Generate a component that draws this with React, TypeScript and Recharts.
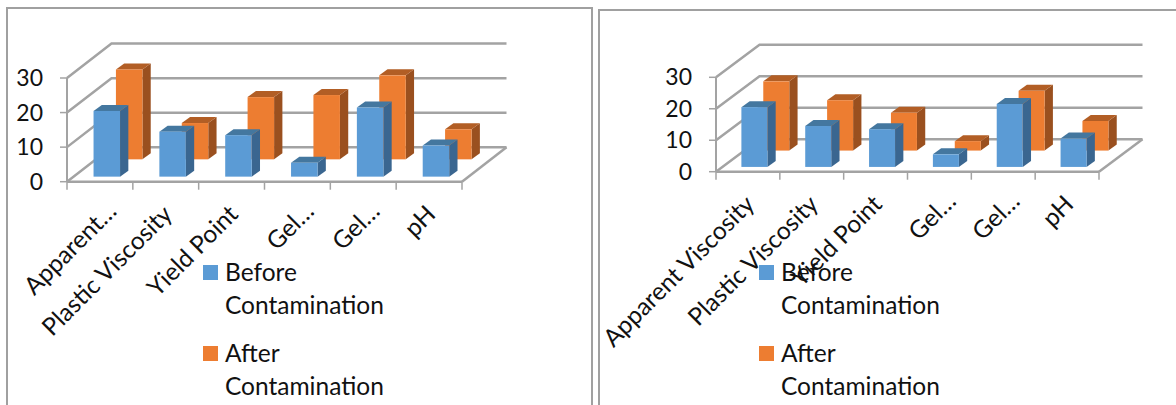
import { Bar, BarChart, CartesianGrid, Legend, XAxis, YAxis } from 'recharts'

const seriesNames = ['Before Contamination', 'After Contamination']
const seriesColors = ['#5B9BD5', '#ED7D31']
const seriesSides = ['#3A6690', '#9A501F']
const seriesTops = ['#44779F', '#B25E25']

const leftLabels = ['Apparent…', 'Plastic Viscosity', 'Yield Point', 'Gel…', 'Gel…', 'pH']
const leftBefore = [19, 13, 12, 4, 20, 9]
const leftAfter = [26, 10.5, 18, 18.6, 24.3, 8.7]

const rightLabels = ['Apparent Viscosity', 'Plastic Viscosity', 'Yield Point', 'Gel…', 'Gel…', 'pH']
const rightBefore = [19, 13, 12, 4, 20, 9]
const rightAfter = [22, 16, 12, 3, 19, 9.4]

const yTicks = [0, 10, 20, 30]
const GRID = '#A3A3A3'
const FONT = 'Lato, sans-serif'

function Box3D(props: any) {
  const { x, y, width, height, fill, side, top, shiftX, shiftY, sideX, sideY } = props
  const l = x + shiftX
  const r = l + width
  const t = y - shiftY
  const b = t + height
  return (
    <g>
      <path d={`M${r},${t}L${r + sideX},${t - sideY}L${r + sideX},${b - sideY}L${r},${b}Z`} fill={side} />
      <path d={`M${l},${t}L${l + sideX},${t - sideY}L${r + sideX},${t - sideY}L${r},${t}Z`} fill={top} />
      <rect x={l} y={t} width={width} height={height} fill={fill} />
    </g>
  )
}

// walls of the 3d box, one piece per gridline, kept in the grid so it stays behind the bars
function WallLine(props: any) {
  const { x1, x2, y1, depthX, depthY, plotBottom, count } = props
  const floor = Math.abs(y1 - plotBottom) < 1
  const line = { stroke: GRID, strokeWidth: 2.5, fill: 'none' }
  return (
    <g key={y1}>
      <path d={`M${x1},${y1}L${x1 + depthX},${y1 - depthY}L${x2 + depthX},${y1 - depthY}`} {...line} />
      {floor && <path d={`M${x2},${y1}L${x2 + depthX},${y1 - depthY}`} {...line} />}
      {floor &&
        Array.from({ length: count + 1 }).map((_, i) => {
          const tx = x1 + ((x2 - x1) * i) / count
          return <path key={i} d={`M${tx},${y1}L${tx},${y1 + 8}`} stroke={GRID} strokeWidth={1.5} />
        })}
    </g>
  )
}

function AngledTick(props: any) {
  const { x, y, index, labels } = props
  const label: string = labels[index]
  // the cut labels sit a bit further along than the full ones
  const cut = label.endsWith('…')
  return (
    <text
      transform={`translate(${x + 8 + (cut ? 10 : 0)},${y + 26 - (cut ? 3 : 0)}) rotate(-45)`}
      textAnchor="end"
      fontSize={24.5}
      fontFamily={FONT}
      fill="#111"
    >
      {label}
    </text>
  )
}

function LegendBox({ payload }: any) {
  const items = [...(payload ?? [])].sort(
    (a: any, b: any) => seriesNames.indexOf(a.value) - seriesNames.indexOf(b.value),
  )
  return (
    <div style={{ fontFamily: FONT, fontSize: 24.5, lineHeight: '33px', color: '#111' }}>
      {items.map((it: any) => (
        <div key={it.value} style={{ display: 'flex', height: 81 }}>
          <div style={{ width: 15, height: 15, marginTop: 10.5, marginRight: 7, background: it.color, flex: 'none' }} />
          <div style={{ width: 170 }}>{it.value}</div>
        </div>
      ))}
    </div>
  )
}

function Panel3D(props: {
  labels: string[]
  before: number[]
  after: number[]
  chartWidth: number
  axisWidth: number
  plotRight: number
  plotTop: number
  plotBottom: number
  depthX: number
  depthY: number
  barSize: number
  legendLeft: number
}) {
  const { labels, before, after, chartWidth, axisWidth, plotRight, plotTop, plotBottom, depthX, depthY, barSize, legendLeft } = props
  const data = labels.map((label, i) => ({ key: i, label, before: before[i], after: after[i] }))
  const barShape = (series: number, part: number) => (p: any) => (
    <Box3D
      {...p}
      fill={seriesColors[series]}
      side={seriesSides[series]}
      top={seriesTops[series]}
      shiftX={depthX * part}
      shiftY={depthY * part}
      sideX={8.3}
      sideY={6}
    />
  )
  return (
    <BarChart
      width={chartWidth}
      height={405}
      data={data}
      barSize={barSize}
      barGap={-barSize}
      margin={{ top: plotTop, right: chartWidth - plotRight, bottom: 405 - plotBottom - 110, left: 0 }}
      style={{ position: 'absolute', top: 0, left: 0 }}
    >
      <CartesianGrid
        vertical={false}
        horizontal={(p: any) => (
          <WallLine key={p.y1} {...p} depthX={depthX} depthY={depthY} plotBottom={plotBottom} count={labels.length} />
        )}
      />
      <XAxis
        dataKey="key"
        height={110}
        interval={0}
        axisLine={{ stroke: GRID, strokeWidth: 2.5 }}
        tickLine={false}
        tick={<AngledTick labels={labels} />}
      />
      <YAxis
        width={axisWidth}
        domain={[0, 30]}
        ticks={yTicks}
        interval={0}
        axisLine={{ stroke: GRID, strokeWidth: 2 }}
        tickLine={{ stroke: GRID, strokeWidth: 1.5 }}
        tickSize={7}
        tickMargin={17}
        tick={{ fontSize: 23, fontFamily: FONT, fill: '#111' }}
      />
      <Bar dataKey="after" name={seriesNames[1]} fill={seriesColors[1]} isAnimationActive={false} shape={barShape(1, 0.65)} />
      <Bar dataKey="before" name={seriesNames[0]} fill={seriesColors[0]} isAnimationActive={false} shape={barShape(0, 0.147)} />
      <Legend
        layout="horizontal"
        verticalAlign="middle"
        align="center"
        content={<LegendBox />}
        wrapperStyle={{ left: legendLeft, top: 254.5, width: 200, bottom: 'auto' }}
      />
    </BarChart>
  )
}

export default function App() {
  return (
    <div style={{ position: 'absolute', left: 0, top: 0, width: 1176, height: 405, overflow: 'hidden', background: '#fff' }}>
      <div style={{ position: 'absolute', left: 6, top: 6.5, width: 583, height: 420, border: '2px solid #A0A0A0' }} />
      <div style={{ position: 'absolute', left: 598, top: 8.5, width: 600, height: 420, border: '2px solid #A0A0A0' }} />
      <div style={{ position: 'absolute', left: 0, top: 0, width: 590, height: 405 }}>
        <Panel3D
          labels={leftLabels}
          before={leftBefore}
          after={leftAfter}
          chartWidth={590}
          axisWidth={67}
          plotRight={462}
          plotTop={78}
          plotBottom={181.7}
          depthX={44.5}
          depthY={34.4}
          barSize={26.5}
          legendLeft={203}
        />
      </div>
      <div style={{ position: 'absolute', left: 590, top: 0, width: 586, height: 405 }}>
        <Panel3D
          labels={rightLabels}
          before={rightBefore}
          after={rightAfter}
          chartWidth={586}
          axisWidth={126}
          plotRight={509}
          plotTop={77.3}
          plotBottom={171.7}
          depthX={43.5}
          depthY={32.5}
          barSize={26}
          legendLeft={169}
        />
      </div>
    </div>
  )
}
